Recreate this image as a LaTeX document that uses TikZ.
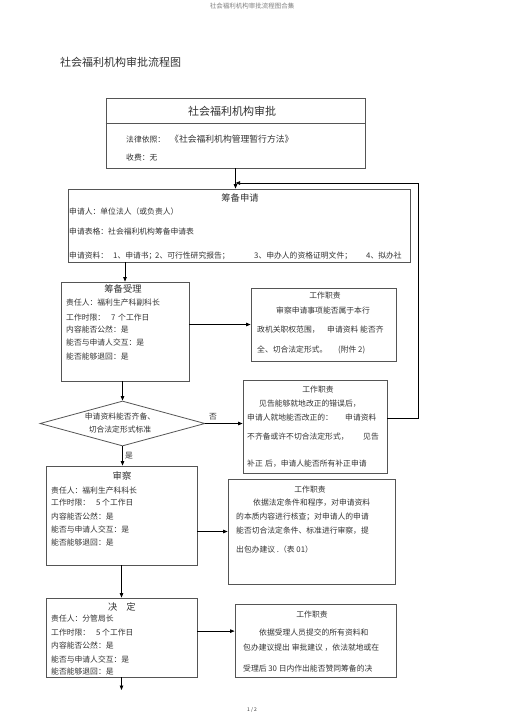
\documentclass[tikz,border=0pt]{standalone}
\usepackage{fontspec}
\setmainfont{Noto Sans CJK SC}
\usetikzlibrary{arrows.meta,shapes.geometric,calc}
\definecolor{bordercol}{HTML}{555555}
\definecolor{textcol}{HTML}{333333}
\begin{document}
\begin{tikzpicture}[x=1pt,y=-1pt,
  box/.style={draw=bordercol, line width=0.8pt, inner sep=0pt},
  txt/.style={anchor=west, inner sep=0pt, font=\fontsize{7.8}{9}\selectfont, text=textcol},
  ctxt/.style={anchor=center, inner sep=0pt, font=\fontsize{7.8}{9}\selectfont, text=textcol},
  ttl/.style={anchor=center, inner sep=0pt, font=\fontsize{9.3}{11}\selectfont, text=textcol},
  arr/.style={-{Triangle[length=4.5pt,width=3.5pt]}, line width=0.7pt, draw=black},
  ln/.style={line width=0.7pt, draw=black}]
\useasboundingbox (0,0) rectangle (505,715);
\fill[white] (0,0) rectangle (505,715);

% header, title, footer
\node[anchor=center, inner sep=0pt, font=\fontsize{6.5}{8}\selectfont, text=gray] (hdr) at (252,6) {社会福利机构审批流程图合集};
\node[anchor=west, inner sep=0pt, font=\fontsize{11}{13}\selectfont, text=textcol] (title) at (60,62) {社会福利机构审批流程图};
\node[anchor=center, inner sep=0pt, font=\fontsize{5}{6}\selectfont, text=textcol] (ftr) at (252,710) {1 / 2};

% box 1
\node[box, minimum width=259pt, minimum height=70pt] (b1) at (235.5,133) {};
\draw[draw=bordercol, line width=0.6pt] (b1.west |- 0,123) coordinate (b1l) -- (b1.east |- 0,123) coordinate (b1r);
\node[ttl, font=\fontsize{11}{13}\selectfont] (b1t) at (232,111) {社会福利机构审批};
\node[txt] (b1a) at (126,140) {法律依照：};
\node[txt, font=\fontsize{8.8}{10}\selectfont] (b1b) at (170,139) {《社会福利机构管理暂行方法》};
\node[txt] (b1c) at (126,158) {收费：无};

% box 2
\node[box, minimum width=342pt, minimum height=73pt] (b2) at (239,225.5) {};
\node[ttl] (b2t) at (240,198) {筹备申请};
\node[txt] (b2a) at (69,212) {申请人：单位法人（或负责人）};
\node[txt] (b2b) at (69,232) {申请表格：};
\node[txt] (b2c) at (108,232) {社会福利机构筹备申请表};
\node[txt] (b2d) at (69,256) {申请资料：};
\node[txt] (b2e) at (113,256) {1、申请书；};
\node[txt] (b2f) at (155,256) {2、可行性研究报告；};
\node[txt] (b2g) at (254,256) {3、申办人的资格证明文件；};
\node[txt] (b2h) at (366,256) {4、拟办社};

% box 3
\node[box, minimum width=128pt, minimum height=99pt] (b3) at (125,331.5) {};
\node[ttl] (b3t) at (123,289) {筹备受理};
\node[txt] (b3a) at (66,303) {责任人：福利生产科副科长};
\node[txt] (b3b) at (66,318) {工作时限：};
\node[txt] (b3b2) at (111,318) {7};
\node[txt] (b3b3) at (118,318) {个工作日};
\node[txt] (b3c) at (66,330) {内容能否公然：是};
\node[txt] (b3d) at (66,343) {能否与申请人交互：是};
\node[txt] (b3e) at (66,357) {能否能够退回：是};

% box 4
\node[box, minimum width=145pt, minimum height=73pt] (b4) at (323.5,324.5) {};
\node[ctxt] (b4t) at (325,296) {工作职责};
\node[txt] (b4a) at (276,311) {审察申请事项能否属于本行};
\node[txt] (b4b) at (257,330) {政机关职权范围，};
\node[txt] (b4c) at (327,330) {申请资料};
\node[txt] (b4d) at (360,330) {能否齐};
\node[txt] (b4e) at (257,350) {全、切合法定形式。};
\node[txt] (b4f) at (338,350) {(附件 2)};

% decision
\node[draw=bordercol, line width=0.8pt, diamond, inner sep=0pt, minimum width=165pt, minimum height=45pt] (d) at (122.5,423.5) {};
\node[ctxt, align=center, font=\fontsize{7.8}{13}\selectfont] (dt) at (120,423.5) {申请资料能否齐备、\\切合法定形式标准};
\node[ctxt] (no) at (213,417) {否};
\node[ctxt] (yes) at (129,456) {是};

% box 5
\node[box, minimum width=144pt, minimum height=93pt] (b5) at (315,426.5) {};
\node[ctxt] (b5t) at (318,390) {工作职责};
\node[txt] (b5a) at (259,404) {见告能够就地改正的错误后，};
\node[txt] (b5b) at (247,418) {申请人就地能否改正的：};
\node[txt] (b5c) at (345,418) {申请资料};
\node[txt] (b5d) at (247,437) {不齐备或许不切合法定形式，};
\node[txt] (b5e) at (363,437) {见告};
\node[txt] (b5f) at (247,464) {补正};
\node[txt] (b5g) at (265,464) {后，申请人能否所有补正申请};

% box 6
\node[box, minimum width=151pt, minimum height=99pt] (b6) at (121.5,515.5) {};
\node[ttl] (b6t) at (122,476) {审察};
\node[txt] (b6a) at (51,491) {责任人：福利生产科科长};
\node[txt] (b6b) at (51,503) {工作时限：};
\node[txt] (b6b2) at (96,503) {5};
\node[txt] (b6b3) at (102,503) {个工作日};
\node[txt] (b6c) at (51,517) {内容能否公然：是};
\node[txt] (b6d) at (51,530) {能否与申请人交互：是};
\node[txt] (b6e) at (51,543) {能否能够退回：是};

% box 7
\node[box, minimum width=167pt, minimum height=105pt] (b7) at (311.5,531.5) {};
\node[ctxt] (b7t) at (310,490) {工作职责};
\node[txt] (b7a) at (253,503) {依据法定条件和程序，对申请资料};
\node[txt] (b7b) at (236,517) {的本质内容进行核查；对申请人的申请};
\node[txt] (b7c) at (236,531) {能否切合法定条件、标准进行审察，提};
\node[txt] (b7d) at (236,550) {出包办建议 .（表 01）};

% box 8
\node[box, minimum width=151pt, minimum height=79pt] (b8) at (121.5,637.5) {};
\node[ttl] (b8t) at (122,607) {决\hspace{9pt}定};
\node[txt] (b8a) at (51,619) {责任人：分管局长};
\node[txt] (b8b) at (51,633) {工作时限：};
\node[txt] (b8b2) at (96,633) {5};
\node[txt] (b8b3) at (102,633) {个工作日};
\node[txt] (b8c) at (51,646) {内容能否公然：是};
\node[txt] (b8d) at (51,659) {能否与申请人交互：是};
\node[txt] (b8e) at (51,672) {能否能够退回：是};

% box 9
\node[box, minimum width=161pt, minimum height=73pt] (b9) at (315.5,640.5) {};
\node[ctxt] (b9t) at (312,615) {工作职责};
\node[txt] (b9a) at (259,633) {依据受理人员提交的所有资料和};
\node[txt] (b9b) at (243,648) {包办建议提出 审批建议 ，依法就地或在};
\node[txt] (b9c) at (243,669) {受理后 30 日内作出能否赞同筹备的决};

% connectors
\coordinate (fbA) at (418,418);
\coordinate (fbB) at (418,183);
\coordinate (endp) at (121.5,690);
\coordinate (b8r) at ($(b8.north east)!0.42!(b8.south east)$);

\draw[arr] (b1.south) -- (b1.south |- b2.north);
\draw[arr] (b3.north |- b2.south) -- (b3.north);
\draw[arr] (b4.west -| b3.east) -- (b4.west);
\draw[arr] (d.north |- b3.south) -- (d.north);
\draw[arr] (d.east) -- (d.east -| b5.west);
\draw[ln] (fbA -| b5.east) -- (fbA) -- (fbB);
\draw[arr] (fbB) -- (fbB -| b1.south);
\draw[arr] (d.south) -- (d.south |- b6.north);
\draw[arr] (b7.west -| b6.east) -- (b7.west);
\draw[arr] (b6.south) -- (b6.south |- b8.north);
\draw[arr] (b8r) -- (b8r -| b9.west);
\draw[arr] (b8.south) -- (endp);
\end{tikzpicture}
\end{document}
